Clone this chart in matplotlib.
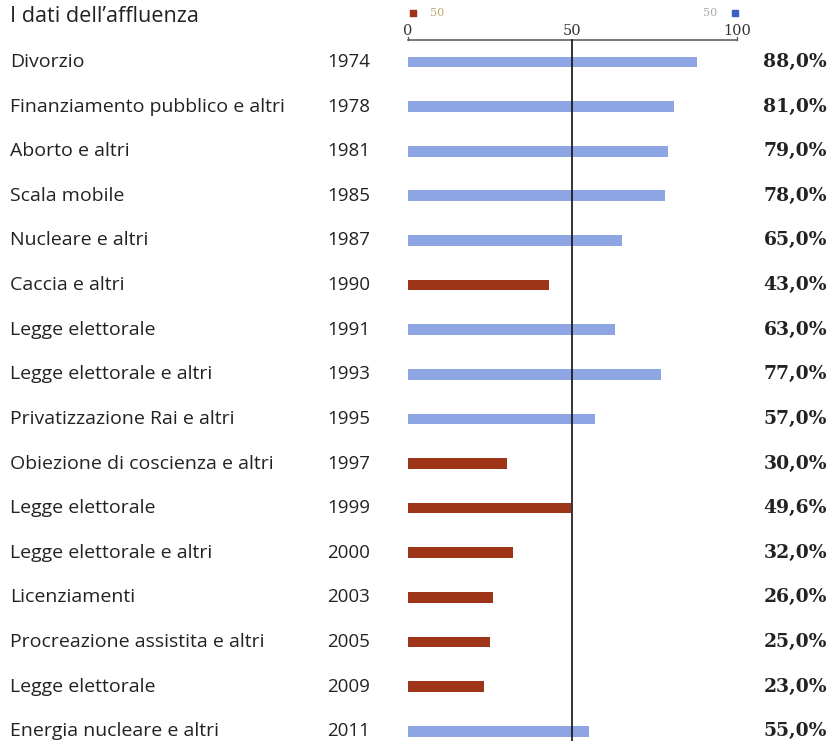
import matplotlib.pyplot as plt

categories = ["Divorzio", "Finanziamento pubblico e altri", "Aborto e altri", "Scala mobile",
              "Nucleare e altri", "Caccia e altri", "Legge elettorale", "Legge elettorale e altri",
              "Privatizzazione Rai e altri", "Obiezione di coscienza e altri", "Legge elettorale",
              "Legge elettorale e altri", "Licenziamenti", "Procreazione assistita e altri",
              "Legge elettorale", "Energia nucleare e altri"]
years = ["1974", "1978", "1981", "1985", "1987", "1990", "1991", "1993",
         "1995", "1997", "1999", "2000", "2003", "2005", "2009", "2011"]
turnout = [88.0, 81.0, 79.0, 78.0, 65.0, 43.0, 63.0, 77.0,
           57.0, 30.0, 49.6, 32.0, 26.0, 25.0, 23.0, 55.0]
ticks = [0, 50, 100]

BLUE = "#8ea5e3"
RED = "#9e3418"

fig = plt.figure(figsize=(8.28, 7.41), dpi=100)
ax = fig.add_axes([0, 0, 1, 1])
ax.set_xlim(-124.0, 127.7)
ax.set_ylim(15.22, -1.39)
ax.axis("off")

label_font = "Open Sans"
rows = range(len(categories))
colors = [BLUE if v >= 50 else RED for v in turnout]
ax.barh(list(rows), turnout, height=0.24, color=colors, left=0)

for i, (cat, yr, v) in enumerate(zip(categories, years, turnout)):
    ax.text(-121, i, cat, ha="left", va="center", fontsize=14, family=label_font, color="#222222")
    ax.text(-11.5, i, yr, ha="right", va="center", fontsize=13.5, family=label_font, color="#222222")
    pct = f"{v:.1f}%".replace(".", ",")
    ax.text(127.4, i, pct, ha="right", va="center", fontsize=13.5, family="DejaVu Serif",
            fontweight="bold", color="#222222")

# title
ax.text(-121, -1.02, "I dati dell\u2019affluenza", ha="left", va="center", fontsize=15.6,
        family=label_font, color="#222222")

# scale line on top
axis_y = -0.49
ax.plot([0, 100], [axis_y, axis_y], color="#555555", lw=1.1)
for t in [0, 100]:
    ax.plot([t, t], [axis_y - 0.06, axis_y], color="#555555", lw=0.9)
for t in ticks:
    ax.text(t, axis_y - 0.04, str(t), ha="center", va="bottom", fontsize=10.5,
            family="DejaVu Serif", color="#333333")

# legend
ax.scatter([1.5], [-1.1], marker="s", s=16, color=RED)
ax.text(9, -1.1, "50", ha="center", va="center", fontsize=8, family="DejaVu Serif", color="#b8a870")
ax.scatter([99.5], [-1.1], marker="s", s=16, color="#3d5fc8")
ax.text(92, -1.1, "50", ha="center", va="center", fontsize=8, family="DejaVu Serif", color="#aaaaaa")

# 50% reference line
ax.plot([50, 50], [axis_y, 15.22], color="#111111", lw=1.2)

fig.savefig("out.png", dpi=100)
